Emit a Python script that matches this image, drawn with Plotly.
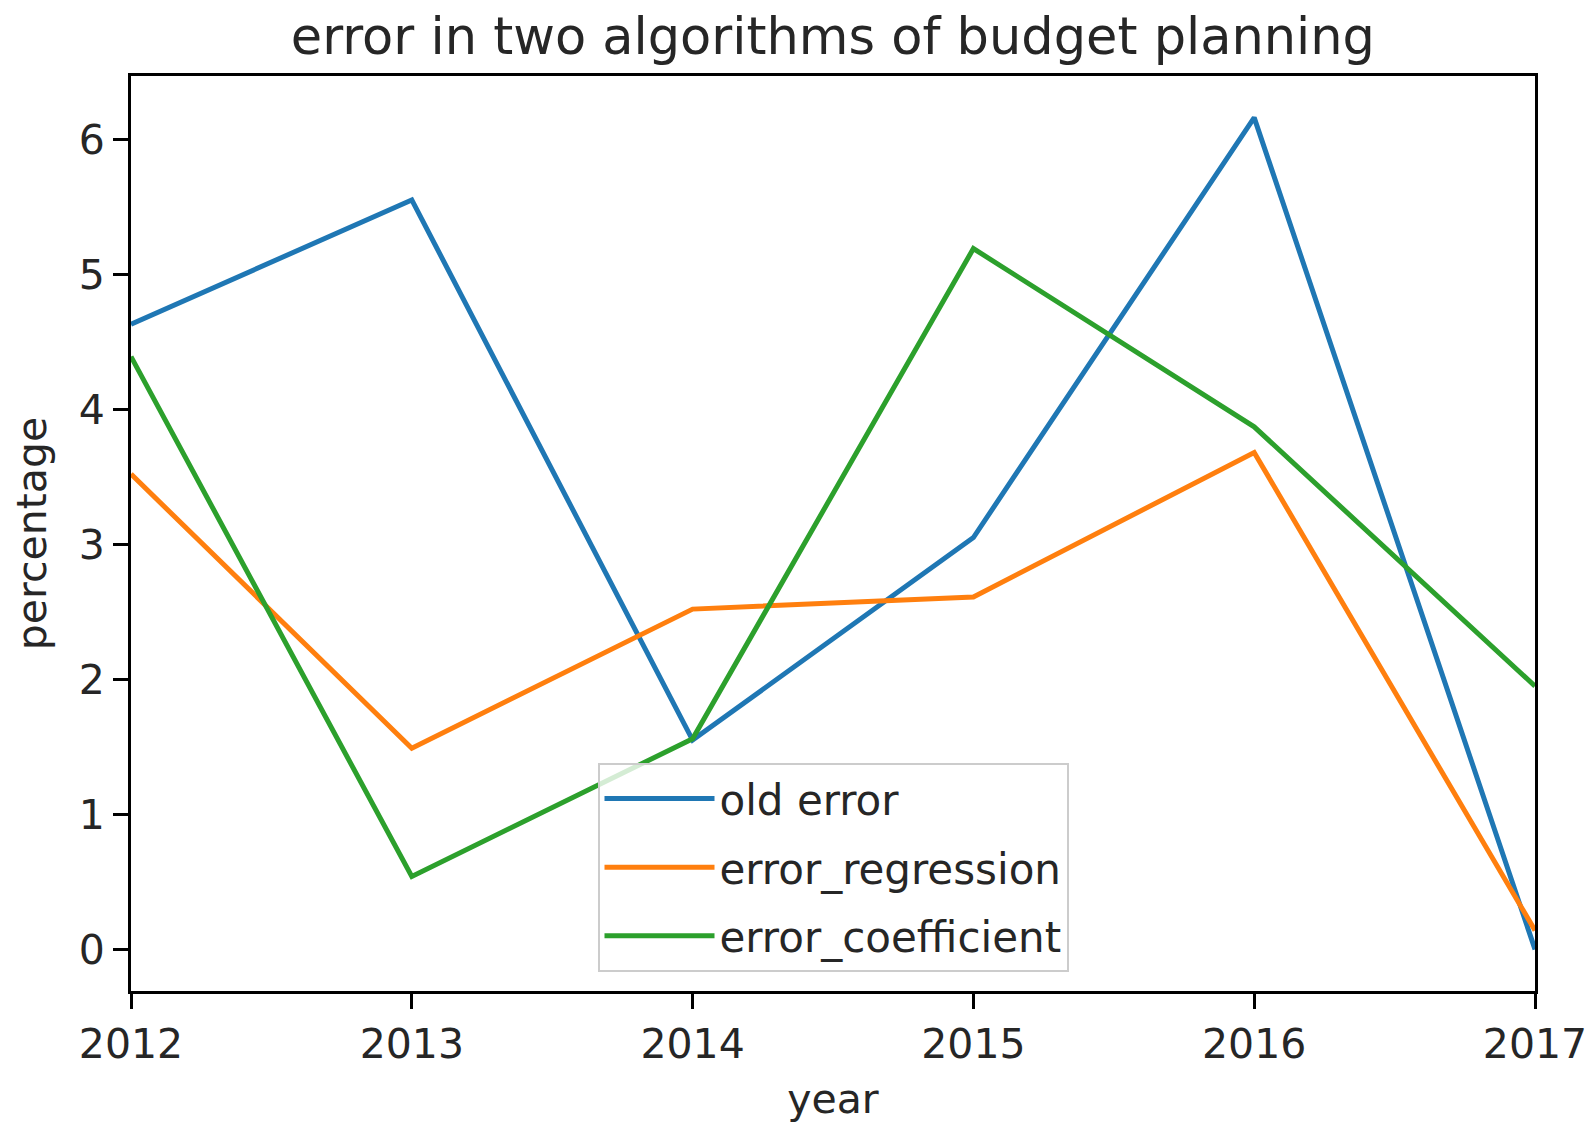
import plotly.graph_objects as go

years = [2012, 2013, 2014, 2015, 2016, 2017]
old_error = [4.63, 5.55, 1.55, 3.05, 6.16, 0.0]
error_regression = [3.52, 1.49, 2.52, 2.61, 3.68, 0.14]
error_coefficient = [4.39, 0.54, 1.56, 5.19, 3.87, 1.95]

series_names = ["old error", "error_regression", "error_coefficient"]
series_values = [old_error, error_regression, error_coefficient]
colors = ["#1f77b4", "#ff7f0e", "#2ca02c"]

FONT = "DejaVu Sans"

fig = go.Figure()
for i, (name, vals, c) in enumerate(zip(series_names, series_values, colors)):
    fig.add_trace(go.Scatter(
        x=years, y=vals, mode="lines", name=name,
        line=dict(color=c, width=5),
        legendgroup=f"g{i}",
    ))

W, H = 1591, 1126
fig.update_layout(
    width=W, height=H,
    margin=dict(l=131, r=56, t=76, b=135),
    paper_bgcolor="white", plot_bgcolor="white",
    font=dict(family=FONT, size=41, color="#262626"),
    title=dict(text="error in two algorithms of budget planning",
               x=0.5235, xanchor="center", y=1 - 36 / H, yanchor="middle",
               font=dict(family=FONT, size=51, color="#262626")),
    showlegend=True,
    legend=dict(
        x=0.5, xanchor="center", y=0.021, yanchor="bottom",
        bgcolor="rgba(255,255,255,0.8)", bordercolor="#cccccc", borderwidth=2,
        font=dict(family=FONT, size=42, color="#262626"),
        tracegroupgap=11, itemwidth=110,
    ),
)
fig.update_xaxes(
    range=[2012, 2017], tickmode="array", tickvals=years,
    ticktext=[str(y) for y in years], automargin=False,
    showgrid=False, zeroline=False,
    showline=True, linecolor="black", linewidth=3, mirror=True,
    ticks="outside", ticklen=15, tickwidth=2.5, tickcolor="black",
    title=dict(text="year", font=dict(family=FONT, size=41, color="#262626"), standoff=18),
)
fig.update_yaxes(
    range=[-0.308, 6.468], tickmode="array", tickvals=[0, 1, 2, 3, 4, 5, 6],
    automargin=False,
    showgrid=False, zeroline=False,
    showline=True, linecolor="black", linewidth=3, mirror=True,
    ticks="outside", ticklen=15, tickwidth=2.5, tickcolor="black",
    title=dict(text="percentage", font=dict(family=FONT, size=41, color="#262626"), standoff=20),
)

fig.write_html("out.html", config={"displayModeBar": False},
               post_script="document.body.style.margin='0';")
